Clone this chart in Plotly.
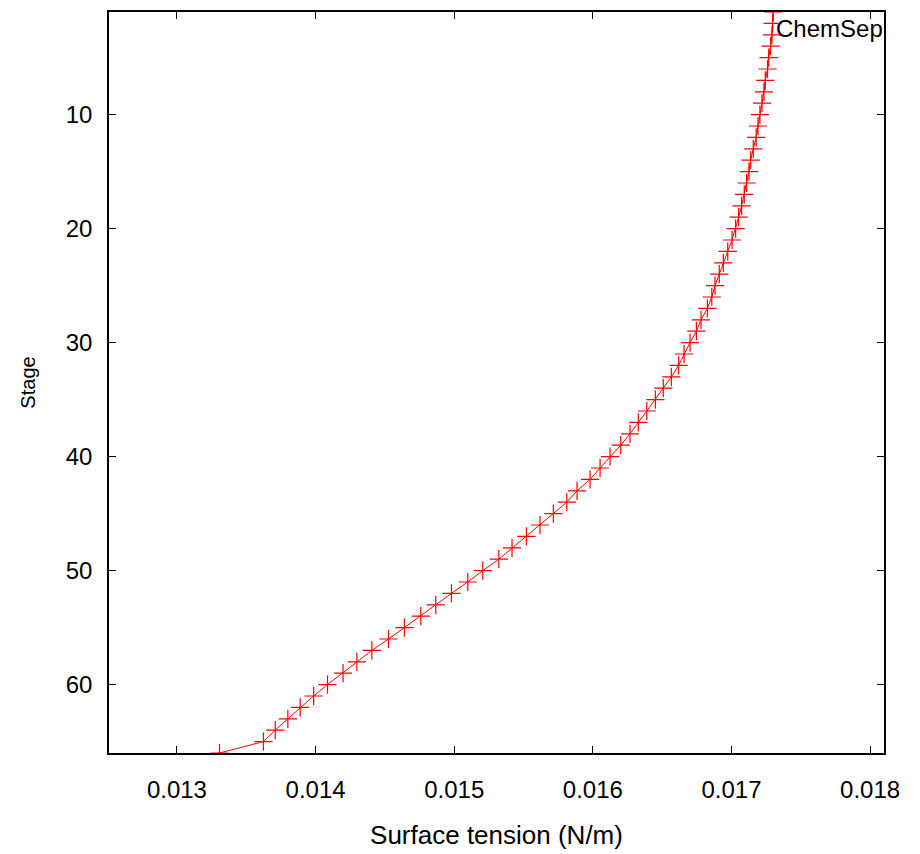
import plotly.graph_objects as go

stages = list(range(1, 67))
surface_tension = [
    0.017301, 0.017297, 0.017292, 0.017282, 0.017268, 0.017260, 0.017244, 0.017234,
    0.017220, 0.017205, 0.017191, 0.017178, 0.017157, 0.017138, 0.017126, 0.017109,
    0.017092, 0.017073, 0.017052, 0.017030, 0.017004, 0.016973, 0.016941, 0.016912,
    0.016881, 0.016858, 0.016826, 0.016780, 0.016747, 0.016701, 0.016658, 0.016619,
    0.016566, 0.016508, 0.016451, 0.016389, 0.016328, 0.016268, 0.016201, 0.016124,
    0.016052, 0.015980, 0.015886, 0.015812, 0.015715, 0.015619, 0.015521, 0.015417,
    0.015322, 0.015206, 0.015098, 0.014980, 0.014867, 0.014759, 0.014641, 0.014526,
    0.014406, 0.014298, 0.014198, 0.014086, 0.013986, 0.013889, 0.013800, 0.013709,
    0.013624, 0.013307,
]
x_ticks = [0.013, 0.014, 0.015, 0.016, 0.017, 0.018]
y_ticks = [10, 20, 30, 40, 50, 60]
series_name = "ChemSep"

FONT = "Liberation Sans, Arial, sans-serif"

fig = go.Figure()
fig.add_trace(go.Scatter(
    x=surface_tension, y=stages, mode="lines+markers", name=series_name,
    line=dict(color="#ff0000", width=1),
    marker=dict(symbol="cross-thin", size=13, color="#ff0000",
                line=dict(color="#ff0000", width=1.2)),
    showlegend=False,
))

fig.add_annotation(
    text=series_name, xref="paper", yref="paper", x=0.858, y=0.978,
    xanchor="left", yanchor="middle", showarrow=False,
    font=dict(family=FONT, size=24, color="black"),
)

fig.update_layout(
    width=920, height=854,
    margin=dict(l=109, r=36, t=12, b=101),
    paper_bgcolor="white", plot_bgcolor="white",
    font=dict(family=FONT, color="black"),
)
fig.update_xaxes(
    range=[0.01251, 0.0181], tickvals=x_ticks, tickformat=".3f",
    ticks="inside", ticklen=7, tickwidth=1, tickcolor="black",
    showline=True, linecolor="black", linewidth=1.5, mirror="allticks",
    showgrid=False, zeroline=False, automargin=False,
    tickfont=dict(family=FONT, size=24), ticklabelstandoff=14,
    title=dict(text="Surface tension (N/m)", font=dict(family=FONT, size=26), standoff=24),
)
fig.update_yaxes(
    range=[66, 1], tickvals=y_ticks,
    ticks="inside", ticklen=7, tickwidth=1, tickcolor="black",
    showline=True, linecolor="black", linewidth=1.5, mirror="allticks",
    showgrid=False, zeroline=False, automargin=False,
    tickfont=dict(family=FONT, size=24), ticklabelstandoff=10,
    title=dict(text="Stage", font=dict(family=FONT, size=20), standoff=25),
)

fig.write_html("out.html")
